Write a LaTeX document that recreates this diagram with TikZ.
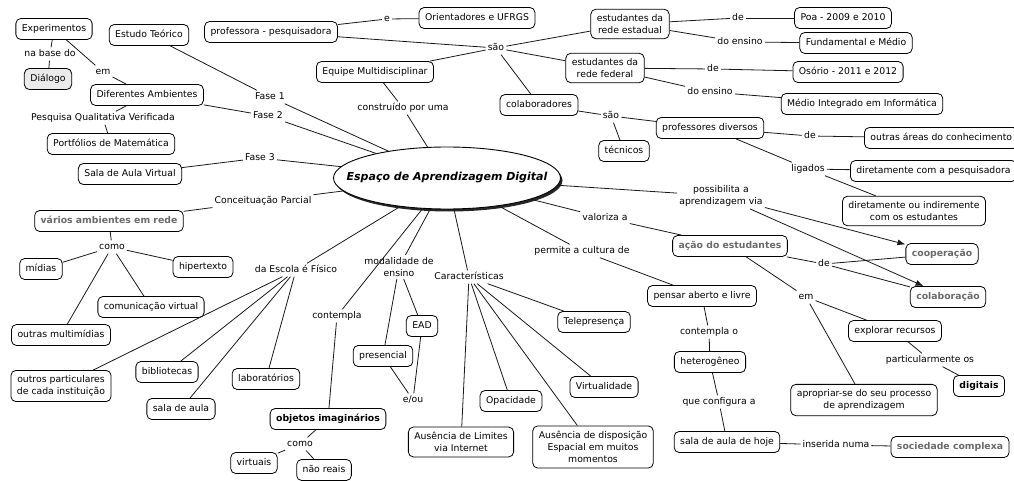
\documentclass[tikz,border=0pt]{standalone}
\usepackage{fontspec}
\setmainfont{DejaVu Sans}
\usetikzlibrary{shapes.geometric,shadows,arrows.meta}
\definecolor{gtext}{HTML}{6A6A6A}
\definecolor{gfill}{HTML}{EBEBEB}
\newcommand\fnt{\fontsize{9.3}{12.3}\selectfont}
\begin{document}
\begin{tikzpicture}[x=1pt,y=-1pt,
  every node/.style={font=\fnt},
  box/.style={draw, line width=0.8pt, rounded corners=5pt, fill=white, inner xsep=6pt, inner ysep=6pt, text height=7pt, text depth=2pt},
  mbox/.style={draw, line width=0.8pt, rounded corners=5pt, fill=white, inner xsep=6pt, inner ysep=5pt, align=center},
  lbl/.style={inner sep=2pt, text height=7pt, text depth=2pt},
  mlbl/.style={inner sep=2pt, align=center},
  gb/.style={font=\fnt\bfseries, text=gtext},
  bk/.style={font=\fnt\bfseries},
  conn/.style={line width=0.8pt, black!90},
  arr/.style={conn, -{Latex[length=8pt,width=6pt]}}
]
\useasboundingbox (0,0) rectangle (1014,481);

% central
\node[draw, ellipse, line width=0.9pt, fill=white, minimum width=227pt, minimum height=62pt, inner xsep=-21pt, inner ysep=0pt,
  drop shadow={shadow xshift=2pt, shadow yshift=-2.5pt, fill=black!85, opacity=1},
  font=\fontsize{11}{13}\selectfont\bfseries\itshape] (ell) at (447,178) {Espaço de Aprendizagem Digital};

% top-left
\node[box] (exp) at (54,29) {Experimentos};
\node[lbl] (lnabase) at (50,54) {na base do};
\node[box, fill=gfill] (dia) at (48,79) {Diálogo};
\node[lbl] (lem1) at (103,72) {em};
\node[box] (est) at (149,35) {Estudo Teórico};
\node[box] (prof) at (271,32) {professora - pesquisadora};
\node[box] (difamb) at (147,95) {Diferentes Ambientes};
\node[lbl] (lpesq) at (103,118) {Pesquisa Qualitativa Verificada};
\node[box] (port) at (111,144) {Portfólios de Matemática};
\node[box] (sav) at (130,174) {Sala de Aula Virtual};
\node[lbl] (lf1) at (270,97) {Fase 1};
\node[lbl] (lf2) at (268,116) {Fase 2};
\node[lbl] (lf3) at (260,158) {Fase 3};
\node[lbl] (lconc) at (263,201) {Conceituação Parcial};

% left-bottom
\node[box, gb] (var) at (109,221) {vários ambientes em rede};
\node[lbl] (lcomo1) at (112,247) {como};
\node[box] (mid) at (41,269) {mídias};
\node[box] (hip) at (203,267) {hipertexto};
\node[box] (com) at (151,307) {comunicação virtual};
\node[box] (omm) at (61,335) {outras multimídias};
\node[lbl] (lesc) at (296,270) {da Escola é Físico};
\node[mbox] (opc) at (61,386) {outros particulares\\de cada instituição};
\node[box] (bib) at (167,372) {bibliotecas};
\node[box] (sda) at (181,409) {sala de aula};
\node[box] (lab) at (266,379) {laboratórios};
\node[lbl] (lcont) at (337,316) {contempla};
\node[box, bk] (obj) at (328,419) {objetos imaginários};
\node[lbl] (lcomo2) at (300,444) {como};
\node[box] (vir) at (254,463) {virtuais};
\node[box] (nre) at (324,470) {não reais};

% bottom middle
\node[mlbl] (lmod) at (399,267) {modalidade de\\ensino};
\node[box] (ead) at (422,326) {EAD};
\node[box] (pres) at (383,356) {presencial};
\node[lbl] (leou) at (413,400) {e/ou};
\node[lbl] (lcar) at (469,277) {Características};
\node[box] (tele) at (594,322) {Telepresença};
\node[box] (virt) at (604,387) {Virtualidade};
\node[box] (opa) at (511,401) {Opacidade};
\node[mbox] (alim) at (461,442) {Ausência de Limites\\via Internet};
\node[mbox] (adis) at (593,447) {Ausência de disposição\\Espacial em muitos\\momentos};

% right-bottom
\node[lbl] (lval) at (605,218) {valoriza a};
\node[lbl] (lperm) at (582,251) {permite a cultura de};
\node[mlbl] (lposs) at (721,196) {possibilita a\\aprendizagem via};
\node[box, gb] (acao) at (730,246) {ação do estudantes};
\node[lbl] (lde3) at (824,264) {de};
\node[box, gb] (coop) at (942,254) {cooperação};
\node[box, gb] (cola) at (948,297) {colaboração};
\node[box] (pens) at (702,296) {pensar aberto e livre};
\node[lbl] (lconto) at (709,332) {contempla o};
\node[box] (het) at (710,362) {heterogêneo};
\node[lbl] (lque) at (719,402) {que configura a};
\node[box] (sah) at (727,442) {sala de aula de hoje};
\node[lbl] (lins) at (836,445) {inserida numa};
\node[box, gb] (soc) at (950,447) {sociedade complexa};
\node[lbl] (lem2) at (806,297) {em};
\node[box] (expl) at (895,331) {explorar recursos};
\node[lbl] (lpart) at (930,360) {particularmente os};
\node[box, bk] (dig) at (979,386) {digitais};
\node[mbox] (apr) at (864,400) {apropriar-se do seu processo\\de aprendizagem};
\node[mbox] (dind) at (914,211) {diretamente ou indiremente\\com os estudantes};

% top middle/right
\node[box] (eme) at (375,72) {Equipe Multidisciplinar};
\node[lbl] (lconst) at (403,108) {construído por uma};
\node[lbl] (lsao1) at (496,48) {são};
\node[box] (ori) at (477,18) {Orientadores e UFRGS};
\node[lbl] (le) at (387,19) {e};
\node[mbox] (este) at (630,24) {estudantes da\\rede estadual};
\node[mbox] (fed) at (605,68) {estudantes da\\rede federal};
\node[box] (colab) at (539,105) {colaboradores};
\node[lbl] (lsao2) at (611,116) {são};
\node[box] (tec) at (624,151) {técnicos};
\node[box] (pdiv) at (710,128) {professores diversos};
\node[lbl] (lde4) at (810,136) {de};
\node[box, anchor=west] (outras) at (864,138) {outras áreas do conhecimento};
\node[lbl] (lligados) at (808,169) {ligados};
\node[box, anchor=west] (dcp) at (850,171) {diretamente com a pesquisadora};
\node[box] (poa) at (843,18) {Poa - 2009 e 2010};
\node[lbl] (lde1) at (738,18) {de};
\node[lbl] (lens1) at (740,42) {do ensino};
\node[box] (fund) at (856,43) {Fundamental e Médio};
\node[lbl] (lde2) at (713,69) {de};
\node[box] (oso) at (848,72) {Osório - 2011 e 2012};
\node[lbl] (lens2) at (710,92) {do ensino};
\node[box] (medi) at (862,104) {Médio Integrado em Informática};

% connectors
\begin{scope}[conn]
\draw (exp) -- (lnabase); \draw (lnabase) -- (dia);
\draw (exp) -- (lem1); \draw (lem1) -- (difamb);
\draw (difamb) -- (lpesq); \draw (lpesq) -- (port);
\draw (est) -- (lf1); \draw (lf1) -- (ell);
\draw (difamb) -- (lf2); \draw (lf2) -- (ell);
\draw (sav) -- (lf3); \draw (lf3) -- (ell);
\draw (ell) -- (lconc); \draw (lconc) -- (var);
\draw (var) -- (lcomo1);
\foreach \t in {mid,hip,com,omm} \draw (lcomo1) -- (\t);
\draw (ell) -- (lesc);
\foreach \t in {opc,bib,sda,lab} \draw (lesc) -- (\t);
\draw (ell) -- (lcont); \draw (lcont) -- (obj);
\draw (obj) -- (lcomo2); \draw (lcomo2) -- (vir); \draw (lcomo2) -- (nre);
\draw (ell) -- (lmod); \draw (lmod) -- (pres); \draw (lmod) -- (ead);
\draw (pres) -- (leou); \draw (ead) -- (leou);
\draw (ell) -- (lcar);
\foreach \t in {tele,virt,opa,alim,adis} \draw (lcar) -- (\t);
\draw (ell) -- (lperm); \draw (lperm) -- (pens);
\draw (pens) -- (lconto); \draw (lconto) -- (het);
\draw (het) -- (lque); \draw (lque) -- (sah);
\draw (sah) -- (lins); \draw (lins) -- (soc);
\draw (ell) -- (lval); \draw (lval) -- (acao);
\draw (acao) -- (lde3); \draw (lde3) -- (coop); \draw (lde3) -- (cola);
\draw (acao) -- (lem2); \draw (lem2) -- (expl); \draw (lem2) -- (apr);
\draw (expl) -- (lpart); \draw (lpart) -- (dig);
\draw (ell) -- (lposs);
\draw[arr] (lposs) -- (coop);
\draw[arr] (lposs) -- (cola);
\draw (ell) -- (lconst); \draw (lconst) -- (eme);
\draw (eme) -- (lsao1);
\foreach \t in {prof,este,fed,colab} \draw (lsao1) -- (\t);
\draw (prof) -- (le); \draw (le) -- (ori);
\draw (este) -- (lde1); \draw (lde1) -- (poa);
\draw (este) -- (lens1); \draw (lens1) -- (fund);
\draw (fed) -- (lde2); \draw (lde2) -- (oso);
\draw (fed) -- (lens2); \draw (lens2) -- (medi);
\draw (colab) -- (lsao2); \draw (lsao2) -- (tec); \draw (lsao2) -- (pdiv);
\draw (pdiv) -- (lde4); \draw (lde4) -- (outras);
\draw (pdiv) -- (lligados); \draw (lligados) -- (dcp); \draw (lligados) -- (dind);
\end{scope}
\end{tikzpicture}
\end{document}
